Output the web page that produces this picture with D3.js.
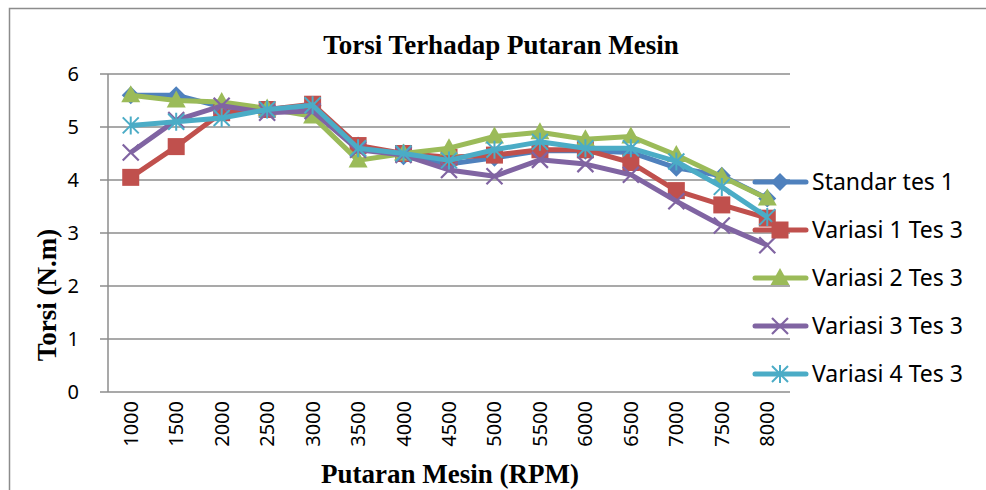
<!DOCTYPE html>
<html>
<head>
  <meta charset='utf-8'>
  <title>Torsi Terhadap Putaran Mesin</title>
  <script src="https://cdnjs.cloudflare.com/ajax/libs/d3/7.8.5/d3.min.js"></script>
  <style>
    html, body { margin: 0; padding: 0; background: #fff; }
    svg { display: block; }
    .tick-label { font-family: 'Noto Sans', 'Open Sans', sans-serif; font-size: 20px; fill: #000; }
    .legend-label { font-family: 'Noto Sans', 'Open Sans', sans-serif; font-size: 23px; fill: #000; }
    .title { font-family: 'Liberation Serif', 'Times New Roman', serif; font-weight: bold; fill: #000; }
  </style>
</head>
<body>
  <svg id="chart"></svg>
  <script>
    // data
    const rpm = ["1000", "1500", "2000", "2500", "3000", "3500", "4000", "4500",
                 "5000", "5500", "6000", "6500", "7000", "7500", "8000"];
    const standarTes1 = [5.6, 5.6, 5.38, 5.33, 5.4, 4.65, 4.45, 4.3, 4.42, 4.55, 4.55, 4.52, 4.23, 4.08, 3.65];
    const variasi1Tes3 = [4.05, 4.63, 5.27, 5.33, 5.43, 4.65, 4.5, 4.43, 4.47, 4.57, 4.57, 4.33, 3.8, 3.53, 3.28];
    const variasi2Tes3 = [5.6, 5.5, 5.47, 5.35, 5.2, 4.37, 4.5, 4.6, 4.82, 4.9, 4.77, 4.82, 4.47, 4.06, 3.65];
    const variasi3Tes3 = [4.52, 5.13, 5.4, 5.27, 5.3, 4.57, 4.47, 4.19, 4.07, 4.38, 4.3, 4.1, 3.6, 3.14, 2.77];
    const variasi4Tes3 = [5.03, 5.1, 5.17, 5.33, 5.41, 4.6, 4.5, 4.37, 4.57, 4.72, 4.6, 4.6, 4.35, 3.87, 3.3];
    const yTicks = [0, 1, 2, 3, 4, 5, 6];

    const series = [
      { name: "Standar tes 1", values: standarTes1, color: "#4F81BD", marker: "diamond" },
      { name: "Variasi 1 Tes 3", values: variasi1Tes3, color: "#C0504D", marker: "square" },
      { name: "Variasi 2 Tes 3", values: variasi2Tes3, color: "#9BBB59", marker: "triangle" },
      { name: "Variasi 3 Tes 3", values: variasi3Tes3, color: "#8064A2", marker: "x" },
      { name: "Variasi 4 Tes 3", values: variasi4Tes3, color: "#4BACC6", marker: "star" }
    ];

    const width = 986;
    const height = 490;
    const plot = { left: 108, right: 790, top: 74, bottom: 392 };
    const gridColor = "#8c8c8c";

    const svg = d3.select('#chart')
      .attr('width', width)
      .attr('height', height);

    // frame of the chart object (clipped by the page)
    svg.append('path')
      .attr('d', `M9.5,${height} V8.5 H${width}`)
      .attr('fill', 'none')
      .attr('stroke', gridColor)
      .attr('stroke-width', 1.5);

    const x = d3.scaleBand().domain(rpm).range([plot.left, plot.right]).paddingInner(0).paddingOuter(0);
    const y = d3.scaleLinear().domain([0, 6]).range([plot.bottom, plot.top]);
    const cx = d => x(d) + x.bandwidth() / 2;

    // gridlines + y ticks
    svg.append('g')
      .selectAll('line')
      .data(yTicks)
      .join('line')
      .attr('x1', plot.left - 8)
      .attr('x2', plot.right)
      .attr('y1', d => y(d))
      .attr('y2', d => y(d))
      .attr('stroke', gridColor)
      .attr('stroke-width', 1.5);

    svg.append('line')
      .attr('x1', plot.left).attr('x2', plot.left)
      .attr('y1', y(6)).attr('y2', y(0))
      .attr('stroke', gridColor)
      .attr('stroke-width', 1.5);

    svg.append('g')
      .selectAll('text')
      .data(yTicks)
      .join('text')
      .attr('class', 'tick-label')
      .attr('x', 79)
      .attr('y', d => y(d))
      .attr('dy', '0.35em')
      .attr('text-anchor', 'end')
      .text(d => d);

    // x tick labels, rotated
    svg.append('g')
      .selectAll('text')
      .data(rpm)
      .join('text')
      .attr('class', 'tick-label')
      .attr('transform', d => `translate(${cx(d)},401) rotate(-90)`)
      .attr('dy', '0.35em')
      .attr('text-anchor', 'end')
      .text(d => d);

    // titles
    svg.append('text')
      .attr('class', 'title')
      .attr('x', 501).attr('y', 54)
      .attr('text-anchor', 'middle')
      .style('font-size', '27px')
      .text('Torsi Terhadap Putaran Mesin');

    svg.append('text')
      .attr('class', 'title')
      .attr('transform', 'translate(47,295) rotate(-90)')
      .attr('dy', '0.35em')
      .attr('text-anchor', 'middle')
      .style('font-size', '27px')
      .text('Torsi (N.m)');

    svg.append('text')
      .attr('class', 'title')
      .attr('x', 450).attr('y', 483)
      .attr('text-anchor', 'middle')
      .style('font-size', '27px')
      .text('Putaran Mesin (RPM)');

    // markers
    function drawMarker(g, type, color) {
      if (type === 'diamond') {
        g.append('path').attr('d', 'M0,-9 L9,0 L0,9 L-9,0 Z').attr('fill', color);
      } else if (type === 'square') {
        g.append('rect').attr('x', -8.5).attr('y', -8.5).attr('width', 17).attr('height', 17).attr('fill', color);
      } else if (type === 'triangle') {
        g.append('path').attr('d', 'M0,-10 L9.5,7 L-9.5,7 Z').attr('fill', color);
      } else if (type === 'x') {
        g.append('path').attr('d', 'M-8,-8 L8,8 M-8,8 L8,-8')
          .attr('stroke', color).attr('stroke-width', 2.2).attr('fill', 'none');
      } else if (type === 'star') {
        g.append('path').attr('d', 'M-8,-8 L8,8 M-8,8 L8,-8 M0,-9 V9')
          .attr('stroke', color).attr('stroke-width', 2).attr('fill', 'none');
      }
    }

    const line = d3.line()
      .x((d, i) => cx(rpm[i]))
      .y(d => y(d));

    series.forEach(s => {
      const g = svg.append('g');
      g.append('path')
        .datum(s.values)
        .attr('d', line)
        .attr('fill', 'none')
        .attr('stroke', s.color)
        .attr('stroke-width', 5)
        .attr('stroke-linejoin', 'round');
      s.values.forEach((v, i) => {
        const m = g.append('g').attr('transform', `translate(${cx(rpm[i])},${y(v)})`);
        drawMarker(m, s.marker, s.color);
      });
    });

    // legend
    const legendY = d3.scalePoint().domain(series.map(s => s.name)).range([182, 374]);
    series.forEach(s => {
      const g = svg.append('g').attr('transform', `translate(0,${legendY(s.name)})`);
      g.append('line')
        .attr('x1', 755).attr('x2', 806)
        .attr('stroke', s.color).attr('stroke-width', 5).attr('stroke-linecap', 'round');
      const m = g.append('g').attr('transform', 'translate(780,0)');
      drawMarker(m, s.marker, s.color);
      g.append('text')
        .attr('class', 'legend-label')
        .attr('x', 812)
        .attr('dy', '0.35em')
        .text(s.name);
    });
  </script>
</body>
</html>
